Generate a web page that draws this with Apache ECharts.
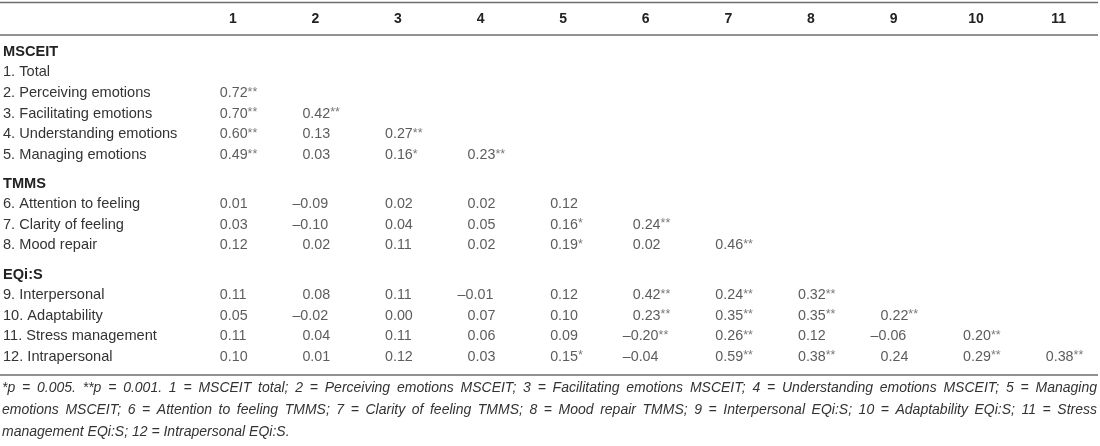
<!DOCTYPE html>
<html>
<head>
<meta charset="utf-8">
<script src="https://cdn.jsdelivr.net/npm/echarts@6/dist/echarts.min.js"></script>
<style>
  html, body { margin: 0; padding: 0; background: #fff; }
  #main { width: 1100px; height: 446px; }
</style>
</head>
<body>
<div id="main"></div>
<script>
// 表头列号
const columns = ['1', '2', '3', '4', '5', '6', '7', '8', '9', '10', '11'];

// MSCEIT
const msceitRows = ['MSCEIT', '1. Total', '2. Perceiving emotions', '3. Facilitating emotions', '4. Understanding emotions', '5. Managing emotions'];
const msceitVals = [[], [], [0.72], [0.70, 0.42], [0.60, 0.13, 0.27], [0.49, 0.03, 0.16, 0.23]];
const msceitSig = [[], [], [2], [2, 2], [2, 0, 2], [2, 0, 1, 2]];

// TMMS
const tmmsRows = ['TMMS', '6. Attention to feeling', '7. Clarity of feeling', '8. Mood repair'];
const tmmsVals = [[], [0.01, -0.09, 0.02, 0.02, 0.12], [0.03, -0.10, 0.04, 0.05, 0.16, 0.24], [0.12, 0.02, 0.11, 0.02, 0.19, 0.02, 0.46]];
const tmmsSig = [[], [0, 0, 0, 0, 0], [0, 0, 0, 0, 1, 2], [0, 0, 0, 0, 1, 0, 2]];

// EQi:S
const eqiRows = ['EQi:S', '9. Interpersonal', '10. Adaptability', '11. Stress management', '12. Intrapersonal'];
const eqiVals = [[],
  [0.11, 0.08, 0.11, -0.01, 0.12, 0.42, 0.24, 0.32],
  [0.05, -0.02, 0.00, 0.07, 0.10, 0.23, 0.35, 0.35, 0.22],
  [0.11, 0.04, 0.11, 0.06, 0.09, -0.20, 0.26, 0.12, -0.06, 0.20],
  [0.10, 0.01, 0.12, 0.03, 0.15, -0.04, 0.59, 0.38, 0.24, 0.29, 0.38]];
const eqiSig = [[],
  [0, 0, 0, 0, 0, 2, 2, 2],
  [0, 0, 0, 0, 0, 2, 2, 2, 2],
  [0, 0, 0, 0, 0, 2, 2, 0, 0, 2],
  [0, 0, 0, 0, 1, 0, 2, 2, 0, 2, 2]];

// 脚注
const footLines = [
  '*p = 0.005. **p = 0.001. 1 = MSCEIT total; 2 = Perceiving emotions MSCEIT; 3 = Facilitating emotions MSCEIT; 4 = Understanding emotions MSCEIT; 5 = Managing',
  'emotions MSCEIT; 6 = Attention to feeling TMMS; 7 = Clarity of feeling TMMS; 8 = Mood repair TMMS; 9 = Interpersonal EQi:S; 10 = Adaptability EQi:S; 11 = Stress',
  'management EQi:S; 12 = Intrapersonal EQi:S.'
];

const FONT = '"Liberation Sans", Arial, Helvetica, sans-serif';
const TEXT = '#333';
const RULE = '#6e6e6e';

// 三个分区各自一个 grid
const sections = [
  { rows: msceitRows, vals: msceitVals, sig: msceitSig, top: 41.4, height: 124 },
  { rows: tmmsRows, vals: tmmsVals, sig: tmmsSig, top: 173.8, height: 81.7 },
  { rows: eqiRows, vals: eqiVals, sig: eqiSig, top: 264.8, height: 102.2 }
];

const fmt = v => (v < 0 ? '–' : '') + Math.abs(v).toFixed(2);

const grids = [], xAxes = [], yAxes = [], series = [];
sections.forEach((sec, gi) => {
  grids.push({ left: 191.5, width: 919, top: sec.top, height: sec.height });
  xAxes.push({
    type: 'category', gridIndex: gi, data: columns, position: 'top',
    axisLine: { show: false }, axisTick: { show: false }, splitLine: { show: false },
    axisLabel: gi === 0 ? {
      show: true, margin: 22, verticalAlign: 'middle',
      fontFamily: FONT, fontSize: 14, fontWeight: 'bold', color: '#222'
    } : { show: false }
  });
  yAxes.push({
    type: 'category', gridIndex: gi, data: sec.rows, inverse: true,
    axisLine: { show: false }, axisTick: { show: false }, splitLine: { show: false },
    axisLabel: {
      margin: 188.5, align: 'left', fontFamily: FONT, fontSize: 14.6, color: TEXT,
      formatter: (val, idx) => idx === 0 ? '{b|' + val + '}' : val,
      rich: { b: { fontFamily: FONT, fontSize: 14.6, fontWeight: 'bold', color: '#222' } }
    }
  });
  const data = [];
  sec.vals.forEach((row, ri) => {
    row.forEach((v, ci) => {
      data.push({
        value: [ci, ri, v, sec.sig[ri][ci]],
        label: { offset: [v < 0 ? -23 : -13, 0] }
      });
    });
  });
  series.push({
    type: 'scatter', xAxisIndex: gi, yAxisIndex: gi, symbolSize: 0,
    silent: true, data: data,
    label: {
      show: true, position: 'inside', align: 'left', verticalAlign: 'middle',
      fontFamily: FONT, fontSize: 14.3, color: TEXT,
      formatter: p => {
        const stars = '*'.repeat(p.value[3]);
        return fmt(p.value[2]) + (stars ? '{s|' + stars + '}' : '');
      },
      rich: { s: { fontFamily: FONT, fontSize: 12.5, color: '#555', padding: [0, 0, 2, 0] } }
    }
  });
});

// 表格横线 + 两端对齐脚注
const graphics = [];
[2.5, 35, 375].forEach(y => {
  graphics.push({ type: 'line', shape: { x1: 0, y1: y, x2: 1098, y2: y }, style: { stroke: RULE, lineWidth: 1.5 }, silent: true });
});
const footFont = 'italic 14px ' + FONT;
const ctx = document.createElement('canvas').getContext('2d');
ctx.font = footFont;
const footX0 = 2, footX1 = 1097, footY = [388, 410, 432];
footLines.forEach((line, li) => {
  const words = line.split(' ');
  const last = li === footLines.length - 1;
  const widths = words.map(w => ctx.measureText(w).width);
  const total = widths.reduce((a, b) => a + b, 0);
  const gap = last ? ctx.measureText(' ').width : (footX1 - footX0 - total) / (words.length - 1);
  let x = footX0;
  words.forEach((w, wi) => {
    graphics.push({
      type: 'text', x: x, y: footY[li], silent: true,
      style: { text: w, font: footFont, fill: TEXT, verticalAlign: 'middle', align: 'left' }
    });
    x += widths[wi] + gap;
  });
});

const chart = echarts.init(document.getElementById('main'));
chart.setOption({
  animation: false,
  textStyle: { fontFamily: FONT },
  grid: grids,
  xAxis: xAxes,
  yAxis: yAxes,
  series: series,
  graphic: graphics
});
</script>
</body>
</html>
